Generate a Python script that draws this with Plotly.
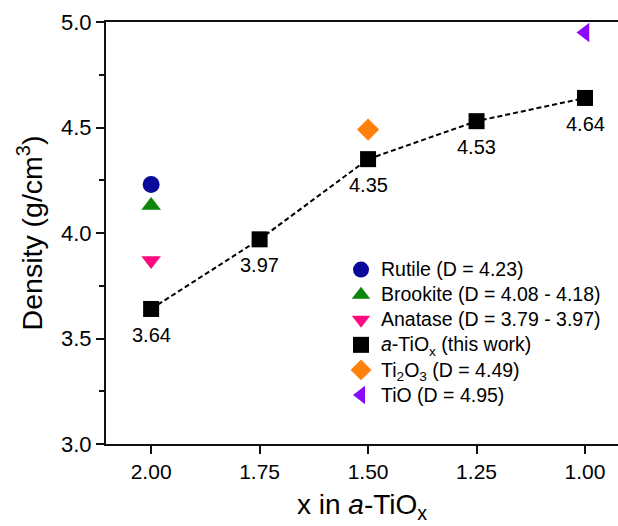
import plotly.graph_objects as go

# Reference phases (single points)
rutile_x, rutile_y = [2.00], [4.23]
brookite_x, brookite_y = [2.00], [4.13]
anatase_x, anatase_y = [2.00], [3.87]
ti2o3_x, ti2o3_y = [1.50], [4.49]
tio_x, tio_y = [1.00], [4.95]

# Amorphous TiOx series
atiox_x = [2.00, 1.75, 1.50, 1.25, 1.00]
atiox_y = [3.64, 3.97, 4.35, 4.53, 4.64]

x_ticks = [2.00, 1.75, 1.50, 1.25, 1.00]
y_ticks = [3.0, 3.5, 4.0, 4.5, 5.0]

FONT = "Liberation Sans, Arial, sans-serif"


def legend_name(s):
    # larger legend text while keeping compact row spacing
    return f'<span style="font-size:19.5px">{s}</span>'


fig = go.Figure()

# dashed guide through the a-TiOx points (kept out of the legend)
fig.add_trace(go.Scatter(
    x=atiox_x, y=atiox_y, mode="lines", showlegend=False, hoverinfo="skip",
    line=dict(color="black", width=2, dash="5px,3px")))

fig.add_trace(go.Scatter(
    x=rutile_x, y=rutile_y, mode="markers", name=legend_name("Rutile (D = 4.23)"),
    marker=dict(symbol="circle", size=17, color="#0a0a9a")))
fig.add_trace(go.Scatter(
    x=brookite_x, y=brookite_y, mode="markers",
    name=legend_name("Brookite (D = 4.08 - 4.18)"),
    marker=dict(symbol="triangle-up", size=17, color="#0a870a")))
fig.add_trace(go.Scatter(
    x=anatase_x, y=anatase_y, mode="markers",
    name=legend_name("Anatase (D = 3.79 - 3.97)"),
    marker=dict(symbol="triangle-down", size=17, color="#ff0a80")))
fig.add_trace(go.Scatter(
    x=atiox_x, y=atiox_y, mode="markers",
    name=legend_name("<i>a</i>-TiO<sub>x</sub> (this work)"),
    marker=dict(symbol="square", size=16, color="black")))
fig.add_trace(go.Scatter(
    x=ti2o3_x, y=ti2o3_y, mode="markers",
    name=legend_name("Ti<sub>2</sub>O<sub>3</sub> (D = 4.49)"),
    marker=dict(symbol="diamond", size=17, color="#ff800a")))
fig.add_trace(go.Scatter(
    x=tio_x, y=tio_y, mode="markers", name=legend_name("TiO (D = 4.95)"),
    marker=dict(symbol="triangle-left", size=17, color="#8a0aff")))

# Value labels under each a-TiOx point
for xv, yv in zip(atiox_x, atiox_y):
    fig.add_annotation(x=xv, y=yv, text=f"{yv:.2f}", showarrow=False,
                       yanchor="top", xanchor="center", yshift=-13,
                       font=dict(family=FONT, size=20, color="black"))

fig.update_layout(
    width=618, height=526,
    margin=dict(l=106, r=0, t=22, b=82),
    paper_bgcolor="white", plot_bgcolor="white",
    font=dict(family=FONT, color="black"),
    showlegend=True,
    legend=dict(x=0.459, y=0.455, xanchor="left", yanchor="top",
                bgcolor="rgba(0,0,0,0)", font=dict(family=FONT, size=17),
                itemsizing="trace", tracegroupgap=0),
    xaxis=dict(
        range=[2.104, 0.924], tickvals=x_ticks, tickformat=".2f",
        ticks="outside", ticklen=8, tickwidth=2, tickcolor="#111",
        showline=True, linewidth=2, linecolor="#111", mirror=True,
        showgrid=False, zeroline=False,
        tickfont=dict(family=FONT, size=21),
        title=dict(text="x in <i>a</i>-TiO<sub>x</sub>",
                   font=dict(family=FONT, size=28), standoff=12)),
    yaxis=dict(
        range=[3.0, 5.0], tickvals=y_ticks, tickformat=".1f",
        ticks="outside", ticklen=8, tickwidth=2, tickcolor="#111",
        minor=dict(dtick=0.25, ticks="outside", ticklen=5, tickwidth=2, tickcolor="#111"),
        showline=True, linewidth=2, linecolor="#111", mirror=False,
        showgrid=False, zeroline=False,
        tickfont=dict(family=FONT, size=22),
        title=dict(text="Density (g/cm<sup>3</sup>)",
                   font=dict(family=FONT, size=28.5), standoff=10)),
)

fig.write_html("out.html")
